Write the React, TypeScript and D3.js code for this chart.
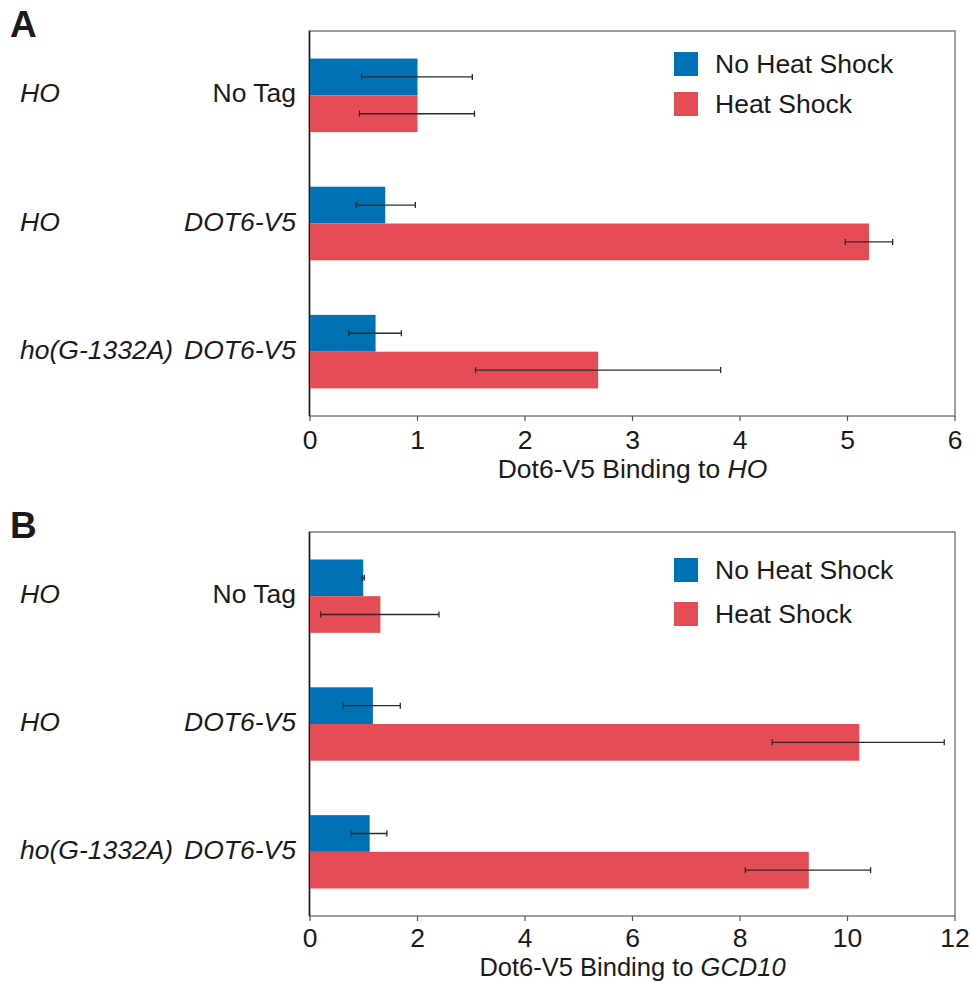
import React from 'react';
import * as d3 from 'd3';

// rows (top to bottom)
const strainLabels = ['HO', 'HO', 'ho(G-1332A)'];
const tagLabels = ['No Tag', 'DOT6-V5', 'DOT6-V5'];
const tagItalic = [false, true, true];

const seriesNames = ['No Heat Shock', 'Heat Shock'];

// Panel A: binding to HO
const hoNoHeat = [1.0, 0.7, 0.61];
const hoNoHeatErr: [number, number][] = [[0.48, 1.51], [0.43, 0.98], [0.36, 0.85]];
const hoHeat = [1.0, 5.2, 2.68];
const hoHeatErr: [number, number][] = [[0.46, 1.53], [4.98, 5.42], [1.54, 3.82]];
const ticksA = [0, 1, 2, 3, 4, 5, 6];

// Panel B: binding to GCD10
const gcdNoHeat = [0.99, 1.17, 1.11];
const gcdNoHeatErr: [number, number][] = [[0.97, 1.01], [0.62, 1.68], [0.77, 1.43]];
const gcdHeat = [1.31, 10.22, 9.28];
const gcdHeatErr: [number, number][] = [[0.2, 2.4], [8.6, 11.8], [8.1, 10.43]];
const ticksB = [0, 2, 4, 6, 8, 10, 12];

const BLUE = '#0071b5';
const RED = '#e44d56';
const FONT = 'Liberation Sans, Arial, Helvetica, sans-serif';
const FS = 26.5;

interface PanelProps {
  letter: string;
  top: number;
  bottom: number;
  noHeat: number[];
  noHeatErr: [number, number][];
  heat: number[];
  heatErr: [number, number][];
  ticks: number[];
  gene: string;
  tickOffset: number;
  titleOffset: number;
  titleSize: number;
  legendTop: number;
  legendGap: number;
}

const Panel: React.FC<PanelProps> = ({ letter, top, bottom, noHeat, noHeatErr, heat, heatErr, ticks, gene, tickOffset, titleOffset, titleSize, legendTop, legendGap }) => {
  const left = 310;
  const right = 955;
  const x = d3.scaleLinear().domain([0, ticks[ticks.length - 1]]).range([left, right]);
  const y = d3.scaleBand<number>()
    .domain(d3.range(strainLabels.length))
    .range([top, bottom])
    .paddingInner(0.426)
    .paddingOuter(0.215);
  const bh = y.bandwidth() / 2;

  const errBar = (lo: number, hi: number, cy: number, key: string) => (
    <g key={key} stroke="#2b2b2b" strokeWidth={1.3}>
      <line x1={x(lo)} x2={x(hi)} y1={cy} y2={cy} />
      <line x1={x(lo)} x2={x(lo)} y1={cy - 3} y2={cy + 3} />
      <line x1={x(hi)} x2={x(hi)} y1={cy - 3} y2={cy + 3} />
    </g>
  );

  return (
    <g fontFamily={FONT}>
      <text x={10} y={top + 6} fontSize={37} fontWeight="bold" fill="#1a1a1a">{letter}</text>

      {/* frame */}
      <rect x={left - 0.5} y={top} width={right - left + 0.5} height={bottom - top} fill="none" stroke="#808080" strokeWidth={1.5} />
      <line x1={left - 0.5} x2={left - 0.5} y1={top} y2={bottom} stroke="#1a1a1a" strokeWidth={1.5} />

      {/* bars */}
      {strainLabels.map((_, i) => {
        const y0 = y(i) as number;
        return (
          <g key={i}>
            <rect x={x(0)} y={y0} width={x(noHeat[i]) - x(0)} height={bh} fill={BLUE} />
            <rect x={x(0)} y={y0 + bh} width={x(heat[i]) - x(0)} height={bh} fill={RED} />
            {errBar(noHeatErr[i][0], noHeatErr[i][1], y0 + bh / 2, 'e1')}
            {errBar(heatErr[i][0], heatErr[i][1], y0 + bh * 1.5, 'e2')}
            <text x={20} y={y0 + bh + 7} fontSize={FS} fontStyle="italic" fill="#1a1a1a">{strainLabels[i]}</text>
            <text x={296} y={y0 + bh + 7} fontSize={FS} fontStyle={tagItalic[i] ? 'italic' : 'normal'} textAnchor="end" fill="#1a1a1a">{tagLabels[i]}</text>
          </g>
        );
      })}

      {/* x axis */}
      {ticks.map(t => (
        <g key={t}>
          <line x1={x(t)} x2={x(t)} y1={bottom} y2={bottom + 5} stroke="#555" strokeWidth={1.2} />
          <text x={x(t)} y={bottom + tickOffset} fontSize={FS} textAnchor="middle" fill="#1a1a1a">{t}</text>
        </g>
      ))}
      <text x={(left + right) / 2} y={bottom + titleOffset} fontSize={titleSize} textAnchor="middle" fill="#1a1a1a">
        Dot6-V5 Binding to <tspan fontStyle="italic">{gene}</tspan>
      </text>

      {/* legend */}
      {seriesNames.map((name, i) => (
        <g key={name}>
          <rect x={674} y={legendTop + i * legendGap} width={24} height={24} fill={i === 0 ? BLUE : RED} />
          <text x={715} y={legendTop + i * legendGap + 21} fontSize={FS} fill="#1a1a1a">{name}</text>
        </g>
      ))}
    </g>
  );
};

const App: React.FC = () => (
  <svg width={972} height={982} style={{ position: 'absolute', left: 0, top: 0, background: '#fff' }}>
    <Panel letter="A" top={31} bottom={416} noHeat={hoNoHeat} noHeatErr={hoNoHeatErr} heat={hoHeat} heatErr={hoHeatErr} ticks={ticksA} gene="HO" tickOffset={33} titleOffset={62} titleSize={FS} legendTop={52} legendGap={40} />
    <Panel letter="B" top={532} bottom={916} noHeat={gcdNoHeat} noHeatErr={gcdNoHeatErr} heat={gcdHeat} heatErr={gcdHeatErr} ticks={ticksB} gene="GCD10" tickOffset={31} titleOffset={60} titleSize={25.5} legendTop={558} legendGap={44} />
  </svg>
);

export default App;
